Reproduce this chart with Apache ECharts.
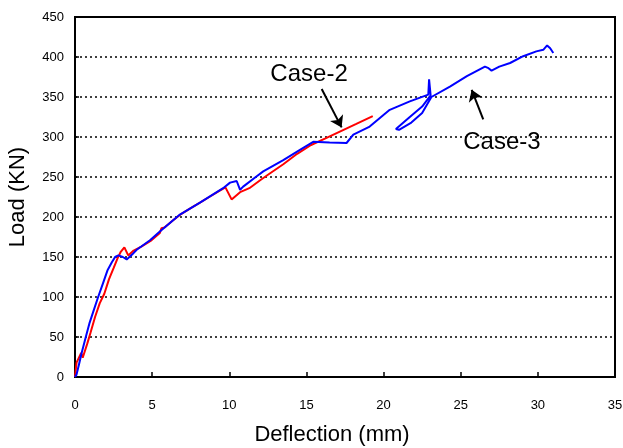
<!DOCTYPE html>
<html>
<head>
<meta charset="utf-8">
<script src="https://cdn.jsdelivr.net/npm/echarts@6/dist/echarts.min.js"></script>
<style>
  html, body { margin: 0; padding: 0; background: #fff; }
  #chart { width: 623px; height: 448px; }
</style>
</head>
<body>
<div id="chart"></div>
<script>
// Case-2 (red) load-deflection curve
var case2Deflection = [0, 0.1, 0.4, 0.5, 0.8, 1.0, 1.3, 1.6, 1.9, 2.2, 2.5, 2.75, 2.95, 3.2, 3.45, 3.8, 4.3, 4.9, 5.5, 5.6, 5.8, 6.3, 6.9, 7.5, 8.1, 8.7, 9.3, 9.75, 10.15, 10.7, 11.3, 12.0, 12.6, 13.5, 14.4, 15.3, 16.2, 17.2, 18.2, 19.3];
var case2Load       = [0, 18, 30, 24, 42, 55, 75, 92, 104, 122, 136, 148, 156, 162, 152, 158, 163, 170, 180, 186, 187, 195, 204, 211, 218, 225, 232, 237, 222, 231, 236, 246, 254, 266, 279, 290, 298, 307, 316, 326];

// Case-3 (blue)
var case3Deflection = [0, 0.1, 0.25, 0.43, 0.7, 0.95, 1.19, 1.5, 1.83, 2.1, 2.38, 2.6, 2.81, 3.1, 3.35, 3.7, 4.0, 4.86, 5.5, 6.8, 8.1, 9.6, 10.05, 10.48, 10.7, 10.9, 11.78, 12.2, 13.5, 14.58, 15.44, 16.5, 17.6, 18.04, 19.1, 20.4, 21.7, 22.9, 22.95, 23.05, 22.5, 21.7, 20.8, 21.0, 21.8, 22.5, 23.1, 24.3, 25.4, 26.57, 26.8, 27.0, 27.5, 28.2, 29.05, 29.9, 30.35, 30.6, 30.8, 31.0];
var case3Load       = [0, 3, 15, 30, 50, 68, 82, 100, 118, 133, 143, 150, 152, 150, 147, 153, 159, 171, 182, 203, 218, 236, 243, 245, 234, 238, 251, 257, 271, 284, 294, 293, 292.5, 303, 313, 334, 344.5, 353, 372, 352, 338, 325, 310, 309, 318, 330, 350, 363, 376, 388, 386, 383, 388, 392.5, 401, 407, 409, 414.5, 411, 405];

// annotation labels and arrows (data coordinates)
var noteNames = ['Case-2', 'Case-3'];
var notePos = [[15.17, 378], [27.67, 293]];
var arrowFrom = [[15.99, 360], [26.46, 322]];
var arrowTo = [[17.28, 312], [25.71, 359]];

function zip(xs, ys) {
    var out = [];
    for (var i = 0; i < xs.length; i++) {
        out.push([xs[i], ys[i]]);
    }
    return out;
}

var font = '"Liberation Sans", Arial, sans-serif';

var chart = echarts.init(document.getElementById('chart'));

var arrowLines = [];
for (var i = 0; i < arrowFrom.length; i++) {
    arrowLines.push([{coord: arrowFrom[i]}, {coord: arrowTo[i]}]);
}

var noteData = [];
for (var j = 0; j < noteNames.length; j++) {
    noteData.push({name: noteNames[j], value: notePos[j]});
}

var option = {
    animation: false,
    grid: {
        left: 75,
        right: 8,
        top: 17,
        bottom: 71,
        outerBoundsMode: 'none',
        show: true,
        borderColor: '#000',
        borderWidth: 2
    },
    xAxis: {
        type: 'value',
        min: 0,
        max: 35,
        interval: 5,
        name: 'Deflection (mm)',
        nameLocation: 'middle',
        nameGap: 47,
        nameTextStyle: {
            fontFamily: font,
            fontSize: 22,
            color: '#000',
            padding: [0, 26, 0, 0]
        },
        axisLine: { lineStyle: { color: '#000', width: 2 } },
        axisTick: { inside: true, length: 5, lineStyle: { color: '#000', width: 1.5 } },
        axisLabel: { fontFamily: font, fontSize: 13, color: '#000', margin: 22 },
        splitLine: { show: false }
    },
    yAxis: {
        type: 'value',
        min: 0,
        max: 450,
        interval: 50,
        name: 'Load (KN)',
        nameLocation: 'middle',
        nameGap: 46,
        nameTextStyle: {
            fontFamily: font,
            fontSize: 22,
            color: '#000'
        },
        axisLine: { lineStyle: { color: '#000', width: 2 } },
        axisTick: { inside: true, length: 4, lineStyle: { color: '#000', width: 1.5 } },
        axisLabel: { fontFamily: font, fontSize: 13, color: '#000', margin: 11, padding: [13, 0, 0, 0] },
        splitLine: { lineStyle: { color: '#000', width: 1.5, type: [2, 3] } }
    },
    series: [
        {
            name: 'Case-2',
            type: 'line',
            data: zip(case2Deflection, case2Load),
            showSymbol: false,
            lineStyle: { color: '#ff0000', width: 2 },
            itemStyle: { color: '#ff0000' }
        },
        {
            name: 'Case-3',
            type: 'line',
            data: zip(case3Deflection, case3Load),
            showSymbol: false,
            lineStyle: { color: '#0000ff', width: 2 },
            itemStyle: { color: '#0000ff' },
            markLine: {
                silent: true,
                symbol: ['none', 'arrow'],
                symbolSize: 11,
                label: { show: false },
                lineStyle: { color: '#000', width: 2, type: 'solid' },
                data: arrowLines
            }
        },
        {
            name: 'notes',
            type: 'scatter',
            symbolSize: 1,
            silent: true,
            itemStyle: { color: 'rgba(0,0,0,0)' },
            data: noteData,
            label: {
                show: true,
                position: 'inside',
                formatter: '{b}',
                fontFamily: font,
                fontSize: 24,
                color: '#000',
                textBorderWidth: 0,
                opacity: 1
            }
        }
    ]
};

chart.setOption(option);
</script>
</body>
</html>
